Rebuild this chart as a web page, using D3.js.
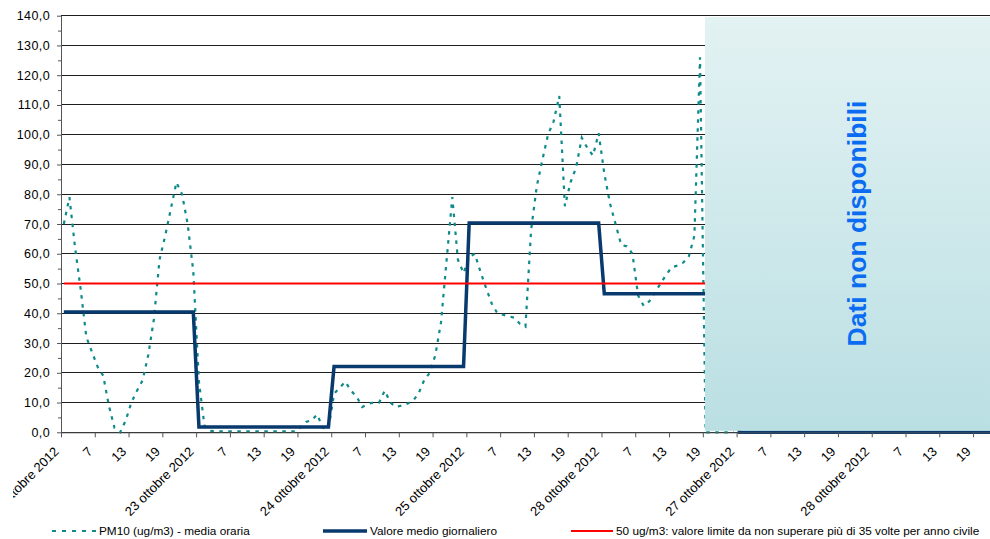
<!DOCTYPE html>
<style>
    body { margin: 0; background: #fff; }
    text { font-family: "Liberation Sans", Arial, sans-serif; }
    .axis .domain { stroke: #555; }
    .axis line { stroke: #555; }
</style>
<body>

<script src="https://d3js.org/d3.v7.min.js"></script>
<script>
    // giorni sull'asse x, etichette orarie fra un giorno e l'altro
    var giorni = ["22 ottobre 2012", "23 ottobre 2012", "24 ottobre 2012", "25 ottobre 2012",
                  "28 ottobre 2012", "27 ottobre 2012", "28 ottobre 2012"];
    var oreEtichette = ["7", "13", "19"];

    // PM10 media oraria (ug/m3), un valore per ora dal 22 ottobre ore 1
    var pm10 = [
        70, 79, 62, 48, 32, 27, 22, 19, 9, 1.5, 0, 4, 10, 14, 17.5, 26, 38, 58, 66, 75, 84, 80, 70, 54,
        17, 2, 0.5, 0.3, 0.3, 0.3, 0.3, 0.3, 0.3, 0.3, 0.3, 0.3, 0.3, 0.3, 0.3, 0.3, 0.3, 0.3, 1.5, 3.5, 4, 6, 1.5, 1,
        13, 15, 17, 14, 12, 8.5, 9.5, 10, 10, 14, 10, 8.5, 9, 9.6, 10.5, 13, 17.5, 20, 26, 37, 58, 79, 58, 53.5,
        59, 60, 54, 48.5, 43.3, 40, 39.5, 39, 38.5, 36.5, 35.5, 68, 82.6, 91.5, 100, 104.5, 113, 76, 84, 89, 99, 95.5, 93, 100.5,
        87, 77, 70, 63, 62.5, 60, 46, 42.5, 44, 47, 50, 53, 55.5, 56, 57, 59, 66, 126, 0, 0, 0, 0, 0, 0
    ];

    // valore medio giornaliero, uno per giorno
    var mediaGiornaliera = [40.4, 1.8, 22.1, 70.3, 46.6, 0, 0];
    var limite = 50;
    var oreGiorno = 24;
    var inizioNonDisponibili = 114; // prima ora senza dati

    var width = 990,
        height = 539;

    var svg = d3.select("body").append("svg")
        .attr("width", width)
        .attr("height", height);

    var totOre = giorni.length * oreGiorno;

    var x = d3.scaleLinear()
        .domain([0, totOre])
        .range([61, 61 + totOre * 5.63]);

    // i punti stanno al centro della categoria oraria
    function xc(i) { return x(i + 0.5); }

    var y = d3.scaleLinear()
        .domain([0, 140])
        .range([432.3, 15.7]);

    var fmt = function(d) { return d3.format(".1f")(d).replace(".", ","); };

    var defs = svg.append("defs");
    var grad = defs.append("linearGradient")
        .attr("id", "sfondo")
        .attr("x1", 0).attr("y1", 0).attr("x2", 0).attr("y2", 1);
    grad.append("stop").attr("offset", "0%").attr("stop-color", "#e3f2f3");
    grad.append("stop").attr("offset", "100%").attr("stop-color", "#badfe3");

    // l'area del grafico originale comincia a x=13: le etichette oltre vengono tagliate
    defs.append("clipPath")
        .attr("id", "areaGrafico")
        .append("rect")
        .attr("x", 13).attr("y", 0)
        .attr("width", width).attr("height", height);

    // griglia
    svg.append("g")
        .selectAll("line")
        .data(y.ticks(14))
        .enter().append("line")
        .attr("x1", x(0))
        .attr("x2", width)
        .attr("y1", function(d) { return y(d); })
        .attr("y2", function(d) { return y(d); })
        .attr("stroke", "#1e1e1e")
        .attr("stroke-width", 1)
        .attr("shape-rendering", "crispEdges");

    var medieOrarie = [];
    var limiteOrario = [];
    mediaGiornaliera.forEach(function(m) {
        for (var h = 0; h < oreGiorno; h++) {
            medieOrarie.push(m);
            limiteOrario.push(limite);
        }
    });

    var line = d3.line()
        .x(function(d, i) { return xc(i); })
        .y(function(d) { return y(d); });

    svg.append("path")
        .datum(pm10)
        .attr("fill", "none")
        .attr("stroke", "#0f8a8a")
        .attr("stroke-width", 2.2)
        .attr("stroke-dasharray", "3.5,5.5")
        .attr("d", line);

    svg.append("path")
        .datum(medieOrarie)
        .attr("fill", "none")
        .attr("stroke", "#083a6e")
        .attr("stroke-width", 3.5)
        .attr("d", line);

    svg.append("path")
        .datum(limiteOrario)
        .attr("fill", "none")
        .attr("stroke", "#ff0000")
        .attr("stroke-width", 2)
        .attr("d", line);

    // riquadro dati non disponibili
    var bandX = xc(inizioNonDisponibili) - 0.6;
    svg.append("rect")
        .attr("x", bandX)
        .attr("y", y(140) + 1.3)
        .attr("width", width - bandX + 20)
        .attr("height", y(0) - 1.5 - (y(140) + 1.3))
        .attr("fill", "url(#sfondo)");

    svg.append("text")
        .attr("transform", "translate(866," + 223.5 + ") rotate(-90)")
        .attr("text-anchor", "middle")
        .attr("font-size", 26.5)
        .attr("font-weight", "bold")
        .attr("fill", "#0b6cf2")
        .text("Dati non disponibili");

    // asse y
    svg.append("g")
        .attr("class", "axis")
        .attr("transform", "translate(" + x(0) + ",0)")
        .call(d3.axisLeft(y).tickValues(d3.range(5, 140, 10)).tickSize(3).tickSizeOuter(0).tickFormat(""));

    svg.append("g")
        .attr("class", "axis")
        .attr("transform", "translate(" + x(0) + ",0)")
        .call(d3.axisLeft(y).ticks(14).tickSize(4).tickSizeOuter(0).tickPadding(7).tickFormat(fmt))
        .selectAll("text")
        .attr("font-size", 12.5)
        .attr("letter-spacing", 0.4)
        .attr("fill", "#000");

    // asse x
    var tickOre = d3.range(0, totOre + 1, 6);
    svg.append("g")
        .attr("class", "axis")
        .attr("clip-path", "url(#areaGrafico)")
        .attr("transform", "translate(0," + y(0) + ")")
        .call(d3.axisBottom(x).tickValues(tickOre).tickSize(5).tickSizeOuter(0)
            .tickFormat(function(d) {
                var k = d / 6;
                if (k % 4 === 0) return giorni[k / 4] || "";
                return oreEtichette[k % 4 - 1];
            }))
        .selectAll("text")
            .attr("font-size", 13)
            .attr("fill", "#000")
            .style("text-anchor", "end")
            .attr("x", 0)
            .attr("y", 0)
            .attr("dy", 0)
            .attr("transform", "translate(-2,20) rotate(-45)");

    // legenda
    var legenda = [
        { testo: "PM10 (ug/m3)  - media oraria", colore: "#0f8a8a", spessore: 2.2, tratteggio: "4,6", x0: 52, x1: 96 },
        { testo: "Valore medio giornaliero", colore: "#083a6e", spessore: 3.5, tratteggio: null, x0: 323, x1: 367 },
        { testo: "50 ug/m3: valore limite da non superare più di 35 volte per anno civile", colore: "#ff0000", spessore: 2, tratteggio: null, x0: 571, x1: 613 }
    ];

    var leg = svg.append("g")
        .selectAll("g")
        .data(legenda)
        .enter().append("g");

    leg.append("line")
        .attr("x1", function(d) { return d.x0; })
        .attr("x2", function(d) { return d.x1; })
        .attr("y1", 531)
        .attr("y2", 531)
        .attr("stroke", function(d) { return d.colore; })
        .attr("stroke-width", function(d) { return d.spessore; })
        .attr("stroke-dasharray", function(d) { return d.tratteggio; });

    leg.append("text")
        .attr("x", function(d) { return d.x1 + 3; })
        .attr("y", 531)
        .attr("dy", "0.35em")
        .attr("font-size", 11.8)
        .attr("fill", "#000")
        .text(function(d) { return d.testo; });
</script>
</body>
